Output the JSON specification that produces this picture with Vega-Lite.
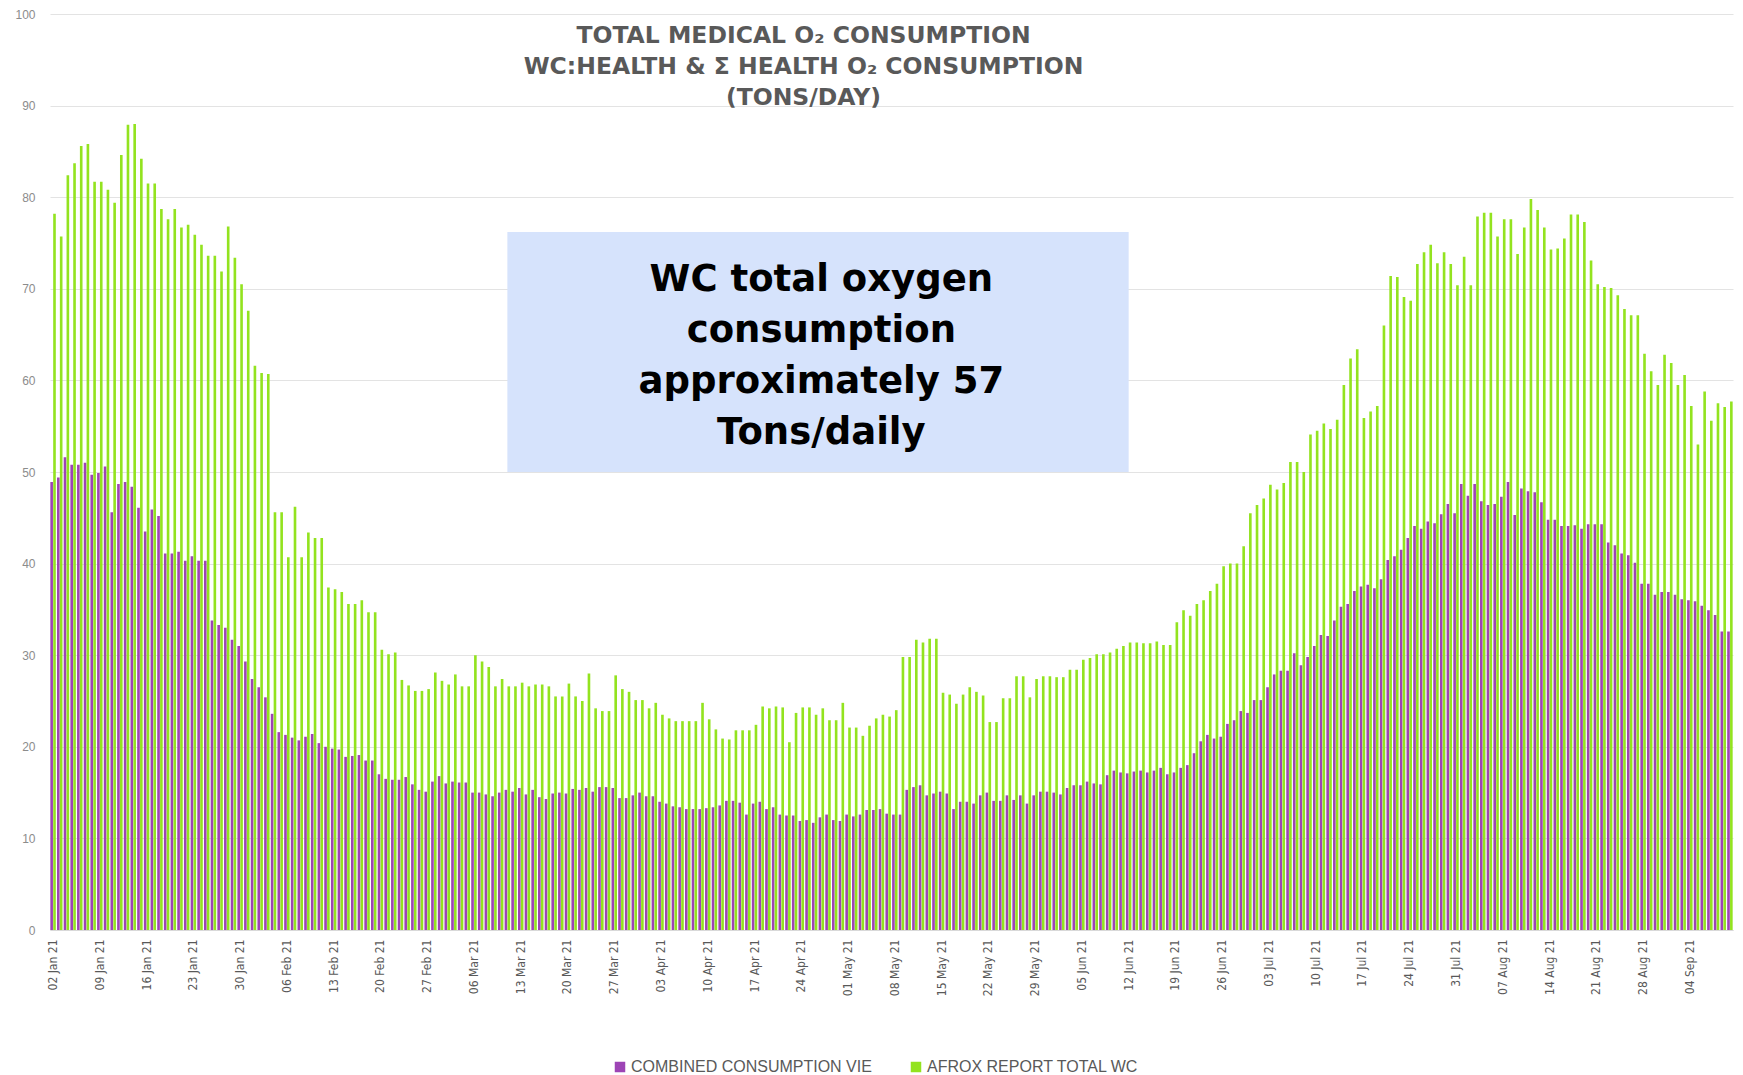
{
  "$schema": "https://vega.github.io/schema/vega-lite/v6.json",
  "autosize": {"type": "none"},
  "width": 1683,
  "height": 916,
  "padding": {"left": 50, "top": 14, "right": 10, "bottom": 145},
  "background": "white",
  "config": {"view": {"stroke": null}},
  "title": {
    "text": ["TOTAL MEDICAL O₂ CONSUMPTION", "WC:HEALTH & Σ HEALTH O₂ CONSUMPTION", "(TONS/DAY)"],
    "anchor": "middle",
    "frame": "group",
    "orient": "top",
    "offset": -101,
    "baseline": "top",
    "dx": -88,
    "font": "DejaVu Sans",
    "fontSize": 23.5,
    "fontWeight": "bold",
    "color": "#595959",
    "lineHeight": 31
  },
  "data": {"values": [
{"d":"2021-01-02","s":"COMBINED CONSUMPTION VIE","v":48.9},{"d":"2021-01-02","s":"AFROX REPORT TOTAL WC","v":78.2},
{"d":"2021-01-03","s":"COMBINED CONSUMPTION VIE","v":49.4},{"d":"2021-01-03","s":"AFROX REPORT TOTAL WC","v":75.7},
{"d":"2021-01-04","s":"COMBINED CONSUMPTION VIE","v":51.6},{"d":"2021-01-04","s":"AFROX REPORT TOTAL WC","v":82.4},
{"d":"2021-01-05","s":"COMBINED CONSUMPTION VIE","v":50.8},{"d":"2021-01-05","s":"AFROX REPORT TOTAL WC","v":83.7},
{"d":"2021-01-06","s":"COMBINED CONSUMPTION VIE","v":50.8},{"d":"2021-01-06","s":"AFROX REPORT TOTAL WC","v":85.6},
{"d":"2021-01-07","s":"COMBINED CONSUMPTION VIE","v":51.0},{"d":"2021-01-07","s":"AFROX REPORT TOTAL WC","v":85.8},
{"d":"2021-01-08","s":"COMBINED CONSUMPTION VIE","v":49.7},{"d":"2021-01-08","s":"AFROX REPORT TOTAL WC","v":81.7},
{"d":"2021-01-09","s":"COMBINED CONSUMPTION VIE","v":49.9},{"d":"2021-01-09","s":"AFROX REPORT TOTAL WC","v":81.7},
{"d":"2021-01-10","s":"COMBINED CONSUMPTION VIE","v":50.6},{"d":"2021-01-10","s":"AFROX REPORT TOTAL WC","v":80.8},
{"d":"2021-01-11","s":"COMBINED CONSUMPTION VIE","v":45.6},{"d":"2021-01-11","s":"AFROX REPORT TOTAL WC","v":79.4},
{"d":"2021-01-12","s":"COMBINED CONSUMPTION VIE","v":48.7},{"d":"2021-01-12","s":"AFROX REPORT TOTAL WC","v":84.6},
{"d":"2021-01-13","s":"COMBINED CONSUMPTION VIE","v":48.9},{"d":"2021-01-13","s":"AFROX REPORT TOTAL WC","v":87.9},
{"d":"2021-01-14","s":"COMBINED CONSUMPTION VIE","v":48.4},{"d":"2021-01-14","s":"AFROX REPORT TOTAL WC","v":88.0},
{"d":"2021-01-15","s":"COMBINED CONSUMPTION VIE","v":46.1},{"d":"2021-01-15","s":"AFROX REPORT TOTAL WC","v":84.2},
{"d":"2021-01-16","s":"COMBINED CONSUMPTION VIE","v":43.5},{"d":"2021-01-16","s":"AFROX REPORT TOTAL WC","v":81.5},
{"d":"2021-01-17","s":"COMBINED CONSUMPTION VIE","v":45.9},{"d":"2021-01-17","s":"AFROX REPORT TOTAL WC","v":81.5},
{"d":"2021-01-18","s":"COMBINED CONSUMPTION VIE","v":45.2},{"d":"2021-01-18","s":"AFROX REPORT TOTAL WC","v":78.7},
{"d":"2021-01-19","s":"COMBINED CONSUMPTION VIE","v":41.1},{"d":"2021-01-19","s":"AFROX REPORT TOTAL WC","v":77.6},
{"d":"2021-01-20","s":"COMBINED CONSUMPTION VIE","v":41.1},{"d":"2021-01-20","s":"AFROX REPORT TOTAL WC","v":78.7},
{"d":"2021-01-21","s":"COMBINED CONSUMPTION VIE","v":41.3},{"d":"2021-01-21","s":"AFROX REPORT TOTAL WC","v":76.7},
{"d":"2021-01-22","s":"COMBINED CONSUMPTION VIE","v":40.3},{"d":"2021-01-22","s":"AFROX REPORT TOTAL WC","v":77.0},
{"d":"2021-01-23","s":"COMBINED CONSUMPTION VIE","v":40.8},{"d":"2021-01-23","s":"AFROX REPORT TOTAL WC","v":75.9},
{"d":"2021-01-24","s":"COMBINED CONSUMPTION VIE","v":40.3},{"d":"2021-01-24","s":"AFROX REPORT TOTAL WC","v":74.8},
{"d":"2021-01-25","s":"COMBINED CONSUMPTION VIE","v":40.3},{"d":"2021-01-25","s":"AFROX REPORT TOTAL WC","v":73.6},
{"d":"2021-01-26","s":"COMBINED CONSUMPTION VIE","v":33.8},{"d":"2021-01-26","s":"AFROX REPORT TOTAL WC","v":73.6},
{"d":"2021-01-27","s":"COMBINED CONSUMPTION VIE","v":33.3},{"d":"2021-01-27","s":"AFROX REPORT TOTAL WC","v":71.9},
{"d":"2021-01-28","s":"COMBINED CONSUMPTION VIE","v":33.0},{"d":"2021-01-28","s":"AFROX REPORT TOTAL WC","v":76.8},
{"d":"2021-01-29","s":"COMBINED CONSUMPTION VIE","v":31.7},{"d":"2021-01-29","s":"AFROX REPORT TOTAL WC","v":73.4},
{"d":"2021-01-30","s":"COMBINED CONSUMPTION VIE","v":31.0},{"d":"2021-01-30","s":"AFROX REPORT TOTAL WC","v":70.5},
{"d":"2021-01-31","s":"COMBINED CONSUMPTION VIE","v":29.3},{"d":"2021-01-31","s":"AFROX REPORT TOTAL WC","v":67.6},
{"d":"2021-02-01","s":"COMBINED CONSUMPTION VIE","v":27.4},{"d":"2021-02-01","s":"AFROX REPORT TOTAL WC","v":61.6},
{"d":"2021-02-02","s":"COMBINED CONSUMPTION VIE","v":26.5},{"d":"2021-02-02","s":"AFROX REPORT TOTAL WC","v":60.8},
{"d":"2021-02-03","s":"COMBINED CONSUMPTION VIE","v":25.4},{"d":"2021-02-03","s":"AFROX REPORT TOTAL WC","v":60.7},
{"d":"2021-02-04","s":"COMBINED CONSUMPTION VIE","v":23.6},{"d":"2021-02-04","s":"AFROX REPORT TOTAL WC","v":45.6},
{"d":"2021-02-05","s":"COMBINED CONSUMPTION VIE","v":21.6},{"d":"2021-02-05","s":"AFROX REPORT TOTAL WC","v":45.6},
{"d":"2021-02-06","s":"COMBINED CONSUMPTION VIE","v":21.3},{"d":"2021-02-06","s":"AFROX REPORT TOTAL WC","v":40.7},
{"d":"2021-02-07","s":"COMBINED CONSUMPTION VIE","v":21.0},{"d":"2021-02-07","s":"AFROX REPORT TOTAL WC","v":46.2},
{"d":"2021-02-08","s":"COMBINED CONSUMPTION VIE","v":20.7},{"d":"2021-02-08","s":"AFROX REPORT TOTAL WC","v":40.7},
{"d":"2021-02-09","s":"COMBINED CONSUMPTION VIE","v":21.1},{"d":"2021-02-09","s":"AFROX REPORT TOTAL WC","v":43.4},
{"d":"2021-02-10","s":"COMBINED CONSUMPTION VIE","v":21.4},{"d":"2021-02-10","s":"AFROX REPORT TOTAL WC","v":42.8},
{"d":"2021-02-11","s":"COMBINED CONSUMPTION VIE","v":20.4},{"d":"2021-02-11","s":"AFROX REPORT TOTAL WC","v":42.8},
{"d":"2021-02-12","s":"COMBINED CONSUMPTION VIE","v":20.0},{"d":"2021-02-12","s":"AFROX REPORT TOTAL WC","v":37.4},
{"d":"2021-02-13","s":"COMBINED CONSUMPTION VIE","v":19.8},{"d":"2021-02-13","s":"AFROX REPORT TOTAL WC","v":37.2},
{"d":"2021-02-14","s":"COMBINED CONSUMPTION VIE","v":19.7},{"d":"2021-02-14","s":"AFROX REPORT TOTAL WC","v":36.9},
{"d":"2021-02-15","s":"COMBINED CONSUMPTION VIE","v":18.9},{"d":"2021-02-15","s":"AFROX REPORT TOTAL WC","v":35.6},
{"d":"2021-02-16","s":"COMBINED CONSUMPTION VIE","v":19.0},{"d":"2021-02-16","s":"AFROX REPORT TOTAL WC","v":35.6},
{"d":"2021-02-17","s":"COMBINED CONSUMPTION VIE","v":19.1},{"d":"2021-02-17","s":"AFROX REPORT TOTAL WC","v":36.0},
{"d":"2021-02-18","s":"COMBINED CONSUMPTION VIE","v":18.5},{"d":"2021-02-18","s":"AFROX REPORT TOTAL WC","v":34.7},
{"d":"2021-02-19","s":"COMBINED CONSUMPTION VIE","v":18.5},{"d":"2021-02-19","s":"AFROX REPORT TOTAL WC","v":34.7},
{"d":"2021-02-20","s":"COMBINED CONSUMPTION VIE","v":17.0},{"d":"2021-02-20","s":"AFROX REPORT TOTAL WC","v":30.6},
{"d":"2021-02-21","s":"COMBINED CONSUMPTION VIE","v":16.5},{"d":"2021-02-21","s":"AFROX REPORT TOTAL WC","v":30.1},
{"d":"2021-02-22","s":"COMBINED CONSUMPTION VIE","v":16.4},{"d":"2021-02-22","s":"AFROX REPORT TOTAL WC","v":30.3},
{"d":"2021-02-23","s":"COMBINED CONSUMPTION VIE","v":16.4},{"d":"2021-02-23","s":"AFROX REPORT TOTAL WC","v":27.3},
{"d":"2021-02-24","s":"COMBINED CONSUMPTION VIE","v":16.7},{"d":"2021-02-24","s":"AFROX REPORT TOTAL WC","v":26.7},
{"d":"2021-02-25","s":"COMBINED CONSUMPTION VIE","v":15.9},{"d":"2021-02-25","s":"AFROX REPORT TOTAL WC","v":26.1},
{"d":"2021-02-26","s":"COMBINED CONSUMPTION VIE","v":15.3},{"d":"2021-02-26","s":"AFROX REPORT TOTAL WC","v":26.1},
{"d":"2021-02-27","s":"COMBINED CONSUMPTION VIE","v":15.1},{"d":"2021-02-27","s":"AFROX REPORT TOTAL WC","v":26.3},
{"d":"2021-02-28","s":"COMBINED CONSUMPTION VIE","v":16.2},{"d":"2021-02-28","s":"AFROX REPORT TOTAL WC","v":28.1},
{"d":"2021-03-01","s":"COMBINED CONSUMPTION VIE","v":16.8},{"d":"2021-03-01","s":"AFROX REPORT TOTAL WC","v":27.2},
{"d":"2021-03-02","s":"COMBINED CONSUMPTION VIE","v":16.0},{"d":"2021-03-02","s":"AFROX REPORT TOTAL WC","v":26.8},
{"d":"2021-03-03","s":"COMBINED CONSUMPTION VIE","v":16.2},{"d":"2021-03-03","s":"AFROX REPORT TOTAL WC","v":27.9},
{"d":"2021-03-04","s":"COMBINED CONSUMPTION VIE","v":16.1},{"d":"2021-03-04","s":"AFROX REPORT TOTAL WC","v":26.6},
{"d":"2021-03-05","s":"COMBINED CONSUMPTION VIE","v":16.1},{"d":"2021-03-05","s":"AFROX REPORT TOTAL WC","v":26.6},
{"d":"2021-03-06","s":"COMBINED CONSUMPTION VIE","v":15.0},{"d":"2021-03-06","s":"AFROX REPORT TOTAL WC","v":30.0},
{"d":"2021-03-07","s":"COMBINED CONSUMPTION VIE","v":15.0},{"d":"2021-03-07","s":"AFROX REPORT TOTAL WC","v":29.3},
{"d":"2021-03-08","s":"COMBINED CONSUMPTION VIE","v":14.8},{"d":"2021-03-08","s":"AFROX REPORT TOTAL WC","v":28.7},
{"d":"2021-03-09","s":"COMBINED CONSUMPTION VIE","v":14.6},{"d":"2021-03-09","s":"AFROX REPORT TOTAL WC","v":26.6},
{"d":"2021-03-10","s":"COMBINED CONSUMPTION VIE","v":15.0},{"d":"2021-03-10","s":"AFROX REPORT TOTAL WC","v":27.4},
{"d":"2021-03-11","s":"COMBINED CONSUMPTION VIE","v":15.3},{"d":"2021-03-11","s":"AFROX REPORT TOTAL WC","v":26.6},
{"d":"2021-03-12","s":"COMBINED CONSUMPTION VIE","v":15.1},{"d":"2021-03-12","s":"AFROX REPORT TOTAL WC","v":26.6},
{"d":"2021-03-13","s":"COMBINED CONSUMPTION VIE","v":15.5},{"d":"2021-03-13","s":"AFROX REPORT TOTAL WC","v":27.0},
{"d":"2021-03-14","s":"COMBINED CONSUMPTION VIE","v":14.8},{"d":"2021-03-14","s":"AFROX REPORT TOTAL WC","v":26.6},
{"d":"2021-03-15","s":"COMBINED CONSUMPTION VIE","v":15.3},{"d":"2021-03-15","s":"AFROX REPORT TOTAL WC","v":26.8},
{"d":"2021-03-16","s":"COMBINED CONSUMPTION VIE","v":14.5},{"d":"2021-03-16","s":"AFROX REPORT TOTAL WC","v":26.8},
{"d":"2021-03-17","s":"COMBINED CONSUMPTION VIE","v":14.3},{"d":"2021-03-17","s":"AFROX REPORT TOTAL WC","v":26.6},
{"d":"2021-03-18","s":"COMBINED CONSUMPTION VIE","v":14.9},{"d":"2021-03-18","s":"AFROX REPORT TOTAL WC","v":25.5},
{"d":"2021-03-19","s":"COMBINED CONSUMPTION VIE","v":15.0},{"d":"2021-03-19","s":"AFROX REPORT TOTAL WC","v":25.5},
{"d":"2021-03-20","s":"COMBINED CONSUMPTION VIE","v":14.9},{"d":"2021-03-20","s":"AFROX REPORT TOTAL WC","v":26.9},
{"d":"2021-03-21","s":"COMBINED CONSUMPTION VIE","v":15.4},{"d":"2021-03-21","s":"AFROX REPORT TOTAL WC","v":25.5},
{"d":"2021-03-22","s":"COMBINED CONSUMPTION VIE","v":15.3},{"d":"2021-03-22","s":"AFROX REPORT TOTAL WC","v":25.0},
{"d":"2021-03-23","s":"COMBINED CONSUMPTION VIE","v":15.5},{"d":"2021-03-23","s":"AFROX REPORT TOTAL WC","v":28.0},
{"d":"2021-03-24","s":"COMBINED CONSUMPTION VIE","v":15.1},{"d":"2021-03-24","s":"AFROX REPORT TOTAL WC","v":24.2},
{"d":"2021-03-25","s":"COMBINED CONSUMPTION VIE","v":15.6},{"d":"2021-03-25","s":"AFROX REPORT TOTAL WC","v":23.9},
{"d":"2021-03-26","s":"COMBINED CONSUMPTION VIE","v":15.6},{"d":"2021-03-26","s":"AFROX REPORT TOTAL WC","v":23.9},
{"d":"2021-03-27","s":"COMBINED CONSUMPTION VIE","v":15.5},{"d":"2021-03-27","s":"AFROX REPORT TOTAL WC","v":27.8},
{"d":"2021-03-28","s":"COMBINED CONSUMPTION VIE","v":14.4},{"d":"2021-03-28","s":"AFROX REPORT TOTAL WC","v":26.3},
{"d":"2021-03-29","s":"COMBINED CONSUMPTION VIE","v":14.4},{"d":"2021-03-29","s":"AFROX REPORT TOTAL WC","v":26.0},
{"d":"2021-03-30","s":"COMBINED CONSUMPTION VIE","v":14.7},{"d":"2021-03-30","s":"AFROX REPORT TOTAL WC","v":25.1},
{"d":"2021-03-31","s":"COMBINED CONSUMPTION VIE","v":15.0},{"d":"2021-03-31","s":"AFROX REPORT TOTAL WC","v":25.1},
{"d":"2021-04-01","s":"COMBINED CONSUMPTION VIE","v":14.6},{"d":"2021-04-01","s":"AFROX REPORT TOTAL WC","v":24.2},
{"d":"2021-04-02","s":"COMBINED CONSUMPTION VIE","v":14.6},{"d":"2021-04-02","s":"AFROX REPORT TOTAL WC","v":24.8},
{"d":"2021-04-03","s":"COMBINED CONSUMPTION VIE","v":14.0},{"d":"2021-04-03","s":"AFROX REPORT TOTAL WC","v":23.5},
{"d":"2021-04-04","s":"COMBINED CONSUMPTION VIE","v":13.8},{"d":"2021-04-04","s":"AFROX REPORT TOTAL WC","v":23.1},
{"d":"2021-04-05","s":"COMBINED CONSUMPTION VIE","v":13.5},{"d":"2021-04-05","s":"AFROX REPORT TOTAL WC","v":22.8},
{"d":"2021-04-06","s":"COMBINED CONSUMPTION VIE","v":13.4},{"d":"2021-04-06","s":"AFROX REPORT TOTAL WC","v":22.8},
{"d":"2021-04-07","s":"COMBINED CONSUMPTION VIE","v":13.2},{"d":"2021-04-07","s":"AFROX REPORT TOTAL WC","v":22.8},
{"d":"2021-04-08","s":"COMBINED CONSUMPTION VIE","v":13.2},{"d":"2021-04-08","s":"AFROX REPORT TOTAL WC","v":22.8},
{"d":"2021-04-09","s":"COMBINED CONSUMPTION VIE","v":13.2},{"d":"2021-04-09","s":"AFROX REPORT TOTAL WC","v":24.8},
{"d":"2021-04-10","s":"COMBINED CONSUMPTION VIE","v":13.3},{"d":"2021-04-10","s":"AFROX REPORT TOTAL WC","v":23.0},
{"d":"2021-04-11","s":"COMBINED CONSUMPTION VIE","v":13.4},{"d":"2021-04-11","s":"AFROX REPORT TOTAL WC","v":21.9},
{"d":"2021-04-12","s":"COMBINED CONSUMPTION VIE","v":13.6},{"d":"2021-04-12","s":"AFROX REPORT TOTAL WC","v":20.9},
{"d":"2021-04-13","s":"COMBINED CONSUMPTION VIE","v":14.1},{"d":"2021-04-13","s":"AFROX REPORT TOTAL WC","v":20.8},
{"d":"2021-04-14","s":"COMBINED CONSUMPTION VIE","v":14.1},{"d":"2021-04-14","s":"AFROX REPORT TOTAL WC","v":21.8},
{"d":"2021-04-15","s":"COMBINED CONSUMPTION VIE","v":13.9},{"d":"2021-04-15","s":"AFROX REPORT TOTAL WC","v":21.8},
{"d":"2021-04-16","s":"COMBINED CONSUMPTION VIE","v":12.6},{"d":"2021-04-16","s":"AFROX REPORT TOTAL WC","v":21.8},
{"d":"2021-04-17","s":"COMBINED CONSUMPTION VIE","v":13.8},{"d":"2021-04-17","s":"AFROX REPORT TOTAL WC","v":22.4},
{"d":"2021-04-18","s":"COMBINED CONSUMPTION VIE","v":14.0},{"d":"2021-04-18","s":"AFROX REPORT TOTAL WC","v":24.4},
{"d":"2021-04-19","s":"COMBINED CONSUMPTION VIE","v":13.2},{"d":"2021-04-19","s":"AFROX REPORT TOTAL WC","v":24.2},
{"d":"2021-04-20","s":"COMBINED CONSUMPTION VIE","v":13.4},{"d":"2021-04-20","s":"AFROX REPORT TOTAL WC","v":24.4},
{"d":"2021-04-21","s":"COMBINED CONSUMPTION VIE","v":12.6},{"d":"2021-04-21","s":"AFROX REPORT TOTAL WC","v":24.3},
{"d":"2021-04-22","s":"COMBINED CONSUMPTION VIE","v":12.5},{"d":"2021-04-22","s":"AFROX REPORT TOTAL WC","v":20.5},
{"d":"2021-04-23","s":"COMBINED CONSUMPTION VIE","v":12.5},{"d":"2021-04-23","s":"AFROX REPORT TOTAL WC","v":23.7},
{"d":"2021-04-24","s":"COMBINED CONSUMPTION VIE","v":11.9},{"d":"2021-04-24","s":"AFROX REPORT TOTAL WC","v":24.3},
{"d":"2021-04-25","s":"COMBINED CONSUMPTION VIE","v":12.0},{"d":"2021-04-25","s":"AFROX REPORT TOTAL WC","v":24.3},
{"d":"2021-04-26","s":"COMBINED CONSUMPTION VIE","v":11.7},{"d":"2021-04-26","s":"AFROX REPORT TOTAL WC","v":23.5},
{"d":"2021-04-27","s":"COMBINED CONSUMPTION VIE","v":12.3},{"d":"2021-04-27","s":"AFROX REPORT TOTAL WC","v":24.2},
{"d":"2021-04-28","s":"COMBINED CONSUMPTION VIE","v":12.6},{"d":"2021-04-28","s":"AFROX REPORT TOTAL WC","v":22.9},
{"d":"2021-04-29","s":"COMBINED CONSUMPTION VIE","v":12.0},{"d":"2021-04-29","s":"AFROX REPORT TOTAL WC","v":22.9},
{"d":"2021-04-30","s":"COMBINED CONSUMPTION VIE","v":11.9},{"d":"2021-04-30","s":"AFROX REPORT TOTAL WC","v":24.8},
{"d":"2021-05-01","s":"COMBINED CONSUMPTION VIE","v":12.6},{"d":"2021-05-01","s":"AFROX REPORT TOTAL WC","v":22.1},
{"d":"2021-05-02","s":"COMBINED CONSUMPTION VIE","v":12.4},{"d":"2021-05-02","s":"AFROX REPORT TOTAL WC","v":22.1},
{"d":"2021-05-03","s":"COMBINED CONSUMPTION VIE","v":12.6},{"d":"2021-05-03","s":"AFROX REPORT TOTAL WC","v":21.2},
{"d":"2021-05-04","s":"COMBINED CONSUMPTION VIE","v":13.1},{"d":"2021-05-04","s":"AFROX REPORT TOTAL WC","v":22.3},
{"d":"2021-05-05","s":"COMBINED CONSUMPTION VIE","v":13.1},{"d":"2021-05-05","s":"AFROX REPORT TOTAL WC","v":23.1},
{"d":"2021-05-06","s":"COMBINED CONSUMPTION VIE","v":13.2},{"d":"2021-05-06","s":"AFROX REPORT TOTAL WC","v":23.5},
{"d":"2021-05-07","s":"COMBINED CONSUMPTION VIE","v":12.7},{"d":"2021-05-07","s":"AFROX REPORT TOTAL WC","v":23.3},
{"d":"2021-05-08","s":"COMBINED CONSUMPTION VIE","v":12.6},{"d":"2021-05-08","s":"AFROX REPORT TOTAL WC","v":24.0},
{"d":"2021-05-09","s":"COMBINED CONSUMPTION VIE","v":12.6},{"d":"2021-05-09","s":"AFROX REPORT TOTAL WC","v":29.8},
{"d":"2021-05-10","s":"COMBINED CONSUMPTION VIE","v":15.3},{"d":"2021-05-10","s":"AFROX REPORT TOTAL WC","v":29.8},
{"d":"2021-05-11","s":"COMBINED CONSUMPTION VIE","v":15.6},{"d":"2021-05-11","s":"AFROX REPORT TOTAL WC","v":31.7},
{"d":"2021-05-12","s":"COMBINED CONSUMPTION VIE","v":15.8},{"d":"2021-05-12","s":"AFROX REPORT TOTAL WC","v":31.4},
{"d":"2021-05-13","s":"COMBINED CONSUMPTION VIE","v":14.7},{"d":"2021-05-13","s":"AFROX REPORT TOTAL WC","v":31.8},
{"d":"2021-05-14","s":"COMBINED CONSUMPTION VIE","v":14.9},{"d":"2021-05-14","s":"AFROX REPORT TOTAL WC","v":31.8},
{"d":"2021-05-15","s":"COMBINED CONSUMPTION VIE","v":15.1},{"d":"2021-05-15","s":"AFROX REPORT TOTAL WC","v":25.9},
{"d":"2021-05-16","s":"COMBINED CONSUMPTION VIE","v":14.9},{"d":"2021-05-16","s":"AFROX REPORT TOTAL WC","v":25.7},
{"d":"2021-05-17","s":"COMBINED CONSUMPTION VIE","v":13.2},{"d":"2021-05-17","s":"AFROX REPORT TOTAL WC","v":24.7},
{"d":"2021-05-18","s":"COMBINED CONSUMPTION VIE","v":14.0},{"d":"2021-05-18","s":"AFROX REPORT TOTAL WC","v":25.7},
{"d":"2021-05-19","s":"COMBINED CONSUMPTION VIE","v":14.0},{"d":"2021-05-19","s":"AFROX REPORT TOTAL WC","v":26.5},
{"d":"2021-05-20","s":"COMBINED CONSUMPTION VIE","v":13.8},{"d":"2021-05-20","s":"AFROX REPORT TOTAL WC","v":26.0},
{"d":"2021-05-21","s":"COMBINED CONSUMPTION VIE","v":14.7},{"d":"2021-05-21","s":"AFROX REPORT TOTAL WC","v":25.6},
{"d":"2021-05-22","s":"COMBINED CONSUMPTION VIE","v":15.0},{"d":"2021-05-22","s":"AFROX REPORT TOTAL WC","v":22.7},
{"d":"2021-05-23","s":"COMBINED CONSUMPTION VIE","v":14.1},{"d":"2021-05-23","s":"AFROX REPORT TOTAL WC","v":22.7},
{"d":"2021-05-24","s":"COMBINED CONSUMPTION VIE","v":14.1},{"d":"2021-05-24","s":"AFROX REPORT TOTAL WC","v":25.3},
{"d":"2021-05-25","s":"COMBINED CONSUMPTION VIE","v":14.7},{"d":"2021-05-25","s":"AFROX REPORT TOTAL WC","v":25.3},
{"d":"2021-05-26","s":"COMBINED CONSUMPTION VIE","v":14.2},{"d":"2021-05-26","s":"AFROX REPORT TOTAL WC","v":27.7},
{"d":"2021-05-27","s":"COMBINED CONSUMPTION VIE","v":14.7},{"d":"2021-05-27","s":"AFROX REPORT TOTAL WC","v":27.7},
{"d":"2021-05-28","s":"COMBINED CONSUMPTION VIE","v":13.8},{"d":"2021-05-28","s":"AFROX REPORT TOTAL WC","v":25.4},
{"d":"2021-05-29","s":"COMBINED CONSUMPTION VIE","v":14.7},{"d":"2021-05-29","s":"AFROX REPORT TOTAL WC","v":27.4},
{"d":"2021-05-30","s":"COMBINED CONSUMPTION VIE","v":15.1},{"d":"2021-05-30","s":"AFROX REPORT TOTAL WC","v":27.7},
{"d":"2021-05-31","s":"COMBINED CONSUMPTION VIE","v":15.1},{"d":"2021-05-31","s":"AFROX REPORT TOTAL WC","v":27.7},
{"d":"2021-06-01","s":"COMBINED CONSUMPTION VIE","v":15.0},{"d":"2021-06-01","s":"AFROX REPORT TOTAL WC","v":27.6},
{"d":"2021-06-02","s":"COMBINED CONSUMPTION VIE","v":14.8},{"d":"2021-06-02","s":"AFROX REPORT TOTAL WC","v":27.6},
{"d":"2021-06-03","s":"COMBINED CONSUMPTION VIE","v":15.5},{"d":"2021-06-03","s":"AFROX REPORT TOTAL WC","v":28.4},
{"d":"2021-06-04","s":"COMBINED CONSUMPTION VIE","v":15.8},{"d":"2021-06-04","s":"AFROX REPORT TOTAL WC","v":28.4},
{"d":"2021-06-05","s":"COMBINED CONSUMPTION VIE","v":15.8},{"d":"2021-06-05","s":"AFROX REPORT TOTAL WC","v":29.5},
{"d":"2021-06-06","s":"COMBINED CONSUMPTION VIE","v":16.2},{"d":"2021-06-06","s":"AFROX REPORT TOTAL WC","v":29.7},
{"d":"2021-06-07","s":"COMBINED CONSUMPTION VIE","v":16.0},{"d":"2021-06-07","s":"AFROX REPORT TOTAL WC","v":30.1},
{"d":"2021-06-08","s":"COMBINED CONSUMPTION VIE","v":15.9},{"d":"2021-06-08","s":"AFROX REPORT TOTAL WC","v":30.1},
{"d":"2021-06-09","s":"COMBINED CONSUMPTION VIE","v":16.9},{"d":"2021-06-09","s":"AFROX REPORT TOTAL WC","v":30.3},
{"d":"2021-06-10","s":"COMBINED CONSUMPTION VIE","v":17.4},{"d":"2021-06-10","s":"AFROX REPORT TOTAL WC","v":30.7},
{"d":"2021-06-11","s":"COMBINED CONSUMPTION VIE","v":17.2},{"d":"2021-06-11","s":"AFROX REPORT TOTAL WC","v":31.0},
{"d":"2021-06-12","s":"COMBINED CONSUMPTION VIE","v":17.1},{"d":"2021-06-12","s":"AFROX REPORT TOTAL WC","v":31.4},
{"d":"2021-06-13","s":"COMBINED CONSUMPTION VIE","v":17.3},{"d":"2021-06-13","s":"AFROX REPORT TOTAL WC","v":31.4},
{"d":"2021-06-14","s":"COMBINED CONSUMPTION VIE","v":17.4},{"d":"2021-06-14","s":"AFROX REPORT TOTAL WC","v":31.3},
{"d":"2021-06-15","s":"COMBINED CONSUMPTION VIE","v":17.2},{"d":"2021-06-15","s":"AFROX REPORT TOTAL WC","v":31.3},
{"d":"2021-06-16","s":"COMBINED CONSUMPTION VIE","v":17.4},{"d":"2021-06-16","s":"AFROX REPORT TOTAL WC","v":31.5},
{"d":"2021-06-17","s":"COMBINED CONSUMPTION VIE","v":17.7},{"d":"2021-06-17","s":"AFROX REPORT TOTAL WC","v":31.1},
{"d":"2021-06-18","s":"COMBINED CONSUMPTION VIE","v":17.0},{"d":"2021-06-18","s":"AFROX REPORT TOTAL WC","v":31.1},
{"d":"2021-06-19","s":"COMBINED CONSUMPTION VIE","v":17.2},{"d":"2021-06-19","s":"AFROX REPORT TOTAL WC","v":33.6},
{"d":"2021-06-20","s":"COMBINED CONSUMPTION VIE","v":17.7},{"d":"2021-06-20","s":"AFROX REPORT TOTAL WC","v":34.9},
{"d":"2021-06-21","s":"COMBINED CONSUMPTION VIE","v":18.0},{"d":"2021-06-21","s":"AFROX REPORT TOTAL WC","v":34.3},
{"d":"2021-06-22","s":"COMBINED CONSUMPTION VIE","v":19.3},{"d":"2021-06-22","s":"AFROX REPORT TOTAL WC","v":35.6},
{"d":"2021-06-23","s":"COMBINED CONSUMPTION VIE","v":20.6},{"d":"2021-06-23","s":"AFROX REPORT TOTAL WC","v":36.0},
{"d":"2021-06-24","s":"COMBINED CONSUMPTION VIE","v":21.3},{"d":"2021-06-24","s":"AFROX REPORT TOTAL WC","v":37.0},
{"d":"2021-06-25","s":"COMBINED CONSUMPTION VIE","v":20.9},{"d":"2021-06-25","s":"AFROX REPORT TOTAL WC","v":37.8},
{"d":"2021-06-26","s":"COMBINED CONSUMPTION VIE","v":21.1},{"d":"2021-06-26","s":"AFROX REPORT TOTAL WC","v":39.7},
{"d":"2021-06-27","s":"COMBINED CONSUMPTION VIE","v":22.5},{"d":"2021-06-27","s":"AFROX REPORT TOTAL WC","v":40.0},
{"d":"2021-06-28","s":"COMBINED CONSUMPTION VIE","v":22.9},{"d":"2021-06-28","s":"AFROX REPORT TOTAL WC","v":40.0},
{"d":"2021-06-29","s":"COMBINED CONSUMPTION VIE","v":23.9},{"d":"2021-06-29","s":"AFROX REPORT TOTAL WC","v":41.9},
{"d":"2021-06-30","s":"COMBINED CONSUMPTION VIE","v":23.7},{"d":"2021-06-30","s":"AFROX REPORT TOTAL WC","v":45.5},
{"d":"2021-07-01","s":"COMBINED CONSUMPTION VIE","v":25.1},{"d":"2021-07-01","s":"AFROX REPORT TOTAL WC","v":46.4},
{"d":"2021-07-02","s":"COMBINED CONSUMPTION VIE","v":25.1},{"d":"2021-07-02","s":"AFROX REPORT TOTAL WC","v":47.1},
{"d":"2021-07-03","s":"COMBINED CONSUMPTION VIE","v":26.5},{"d":"2021-07-03","s":"AFROX REPORT TOTAL WC","v":48.6},
{"d":"2021-07-04","s":"COMBINED CONSUMPTION VIE","v":27.9},{"d":"2021-07-04","s":"AFROX REPORT TOTAL WC","v":48.1},
{"d":"2021-07-05","s":"COMBINED CONSUMPTION VIE","v":28.3},{"d":"2021-07-05","s":"AFROX REPORT TOTAL WC","v":48.8},
{"d":"2021-07-06","s":"COMBINED CONSUMPTION VIE","v":28.3},{"d":"2021-07-06","s":"AFROX REPORT TOTAL WC","v":51.1},
{"d":"2021-07-07","s":"COMBINED CONSUMPTION VIE","v":30.2},{"d":"2021-07-07","s":"AFROX REPORT TOTAL WC","v":51.1},
{"d":"2021-07-08","s":"COMBINED CONSUMPTION VIE","v":28.9},{"d":"2021-07-08","s":"AFROX REPORT TOTAL WC","v":50.0},
{"d":"2021-07-09","s":"COMBINED CONSUMPTION VIE","v":29.8},{"d":"2021-07-09","s":"AFROX REPORT TOTAL WC","v":54.1},
{"d":"2021-07-10","s":"COMBINED CONSUMPTION VIE","v":31.0},{"d":"2021-07-10","s":"AFROX REPORT TOTAL WC","v":54.5},
{"d":"2021-07-11","s":"COMBINED CONSUMPTION VIE","v":32.2},{"d":"2021-07-11","s":"AFROX REPORT TOTAL WC","v":55.3},
{"d":"2021-07-12","s":"COMBINED CONSUMPTION VIE","v":32.1},{"d":"2021-07-12","s":"AFROX REPORT TOTAL WC","v":54.7},
{"d":"2021-07-13","s":"COMBINED CONSUMPTION VIE","v":33.8},{"d":"2021-07-13","s":"AFROX REPORT TOTAL WC","v":55.7},
{"d":"2021-07-14","s":"COMBINED CONSUMPTION VIE","v":35.3},{"d":"2021-07-14","s":"AFROX REPORT TOTAL WC","v":59.5},
{"d":"2021-07-15","s":"COMBINED CONSUMPTION VIE","v":35.6},{"d":"2021-07-15","s":"AFROX REPORT TOTAL WC","v":62.4},
{"d":"2021-07-16","s":"COMBINED CONSUMPTION VIE","v":37.0},{"d":"2021-07-16","s":"AFROX REPORT TOTAL WC","v":63.4},
{"d":"2021-07-17","s":"COMBINED CONSUMPTION VIE","v":37.5},{"d":"2021-07-17","s":"AFROX REPORT TOTAL WC","v":55.9},
{"d":"2021-07-18","s":"COMBINED CONSUMPTION VIE","v":37.7},{"d":"2021-07-18","s":"AFROX REPORT TOTAL WC","v":56.6},
{"d":"2021-07-19","s":"COMBINED CONSUMPTION VIE","v":37.3},{"d":"2021-07-19","s":"AFROX REPORT TOTAL WC","v":57.2},
{"d":"2021-07-20","s":"COMBINED CONSUMPTION VIE","v":38.3},{"d":"2021-07-20","s":"AFROX REPORT TOTAL WC","v":66.0},
{"d":"2021-07-21","s":"COMBINED CONSUMPTION VIE","v":40.4},{"d":"2021-07-21","s":"AFROX REPORT TOTAL WC","v":71.4},
{"d":"2021-07-22","s":"COMBINED CONSUMPTION VIE","v":40.8},{"d":"2021-07-22","s":"AFROX REPORT TOTAL WC","v":71.3},
{"d":"2021-07-23","s":"COMBINED CONSUMPTION VIE","v":41.5},{"d":"2021-07-23","s":"AFROX REPORT TOTAL WC","v":69.1},
{"d":"2021-07-24","s":"COMBINED CONSUMPTION VIE","v":42.8},{"d":"2021-07-24","s":"AFROX REPORT TOTAL WC","v":68.7},
{"d":"2021-07-25","s":"COMBINED CONSUMPTION VIE","v":44.1},{"d":"2021-07-25","s":"AFROX REPORT TOTAL WC","v":72.7},
{"d":"2021-07-26","s":"COMBINED CONSUMPTION VIE","v":43.8},{"d":"2021-07-26","s":"AFROX REPORT TOTAL WC","v":74.0},
{"d":"2021-07-27","s":"COMBINED CONSUMPTION VIE","v":44.6},{"d":"2021-07-27","s":"AFROX REPORT TOTAL WC","v":74.8},
{"d":"2021-07-28","s":"COMBINED CONSUMPTION VIE","v":44.4},{"d":"2021-07-28","s":"AFROX REPORT TOTAL WC","v":72.8},
{"d":"2021-07-29","s":"COMBINED CONSUMPTION VIE","v":45.4},{"d":"2021-07-29","s":"AFROX REPORT TOTAL WC","v":74.0},
{"d":"2021-07-30","s":"COMBINED CONSUMPTION VIE","v":46.5},{"d":"2021-07-30","s":"AFROX REPORT TOTAL WC","v":72.7},
{"d":"2021-07-31","s":"COMBINED CONSUMPTION VIE","v":45.5},{"d":"2021-07-31","s":"AFROX REPORT TOTAL WC","v":70.4},
{"d":"2021-08-01","s":"COMBINED CONSUMPTION VIE","v":48.7},{"d":"2021-08-01","s":"AFROX REPORT TOTAL WC","v":73.5},
{"d":"2021-08-02","s":"COMBINED CONSUMPTION VIE","v":47.4},{"d":"2021-08-02","s":"AFROX REPORT TOTAL WC","v":70.4},
{"d":"2021-08-03","s":"COMBINED CONSUMPTION VIE","v":48.7},{"d":"2021-08-03","s":"AFROX REPORT TOTAL WC","v":77.9},
{"d":"2021-08-04","s":"COMBINED CONSUMPTION VIE","v":46.8},{"d":"2021-08-04","s":"AFROX REPORT TOTAL WC","v":78.3},
{"d":"2021-08-05","s":"COMBINED CONSUMPTION VIE","v":46.4},{"d":"2021-08-05","s":"AFROX REPORT TOTAL WC","v":78.3},
{"d":"2021-08-06","s":"COMBINED CONSUMPTION VIE","v":46.5},{"d":"2021-08-06","s":"AFROX REPORT TOTAL WC","v":75.7},
{"d":"2021-08-07","s":"COMBINED CONSUMPTION VIE","v":47.3},{"d":"2021-08-07","s":"AFROX REPORT TOTAL WC","v":77.6},
{"d":"2021-08-08","s":"COMBINED CONSUMPTION VIE","v":48.9},{"d":"2021-08-08","s":"AFROX REPORT TOTAL WC","v":77.6},
{"d":"2021-08-09","s":"COMBINED CONSUMPTION VIE","v":45.3},{"d":"2021-08-09","s":"AFROX REPORT TOTAL WC","v":73.8},
{"d":"2021-08-10","s":"COMBINED CONSUMPTION VIE","v":48.2},{"d":"2021-08-10","s":"AFROX REPORT TOTAL WC","v":76.7},
{"d":"2021-08-11","s":"COMBINED CONSUMPTION VIE","v":47.9},{"d":"2021-08-11","s":"AFROX REPORT TOTAL WC","v":79.8},
{"d":"2021-08-12","s":"COMBINED CONSUMPTION VIE","v":47.8},{"d":"2021-08-12","s":"AFROX REPORT TOTAL WC","v":78.6},
{"d":"2021-08-13","s":"COMBINED CONSUMPTION VIE","v":46.7},{"d":"2021-08-13","s":"AFROX REPORT TOTAL WC","v":76.7},
{"d":"2021-08-14","s":"COMBINED CONSUMPTION VIE","v":44.8},{"d":"2021-08-14","s":"AFROX REPORT TOTAL WC","v":74.3},
{"d":"2021-08-15","s":"COMBINED CONSUMPTION VIE","v":44.8},{"d":"2021-08-15","s":"AFROX REPORT TOTAL WC","v":74.4},
{"d":"2021-08-16","s":"COMBINED CONSUMPTION VIE","v":44.1},{"d":"2021-08-16","s":"AFROX REPORT TOTAL WC","v":75.5},
{"d":"2021-08-17","s":"COMBINED CONSUMPTION VIE","v":44.1},{"d":"2021-08-17","s":"AFROX REPORT TOTAL WC","v":78.1},
{"d":"2021-08-18","s":"COMBINED CONSUMPTION VIE","v":44.2},{"d":"2021-08-18","s":"AFROX REPORT TOTAL WC","v":78.1},
{"d":"2021-08-19","s":"COMBINED CONSUMPTION VIE","v":43.8},{"d":"2021-08-19","s":"AFROX REPORT TOTAL WC","v":77.3},
{"d":"2021-08-20","s":"COMBINED CONSUMPTION VIE","v":44.3},{"d":"2021-08-20","s":"AFROX REPORT TOTAL WC","v":73.1},
{"d":"2021-08-21","s":"COMBINED CONSUMPTION VIE","v":44.3},{"d":"2021-08-21","s":"AFROX REPORT TOTAL WC","v":70.5},
{"d":"2021-08-22","s":"COMBINED CONSUMPTION VIE","v":44.3},{"d":"2021-08-22","s":"AFROX REPORT TOTAL WC","v":70.2},
{"d":"2021-08-23","s":"COMBINED CONSUMPTION VIE","v":42.3},{"d":"2021-08-23","s":"AFROX REPORT TOTAL WC","v":70.1},
{"d":"2021-08-24","s":"COMBINED CONSUMPTION VIE","v":42.0},{"d":"2021-08-24","s":"AFROX REPORT TOTAL WC","v":69.3},
{"d":"2021-08-25","s":"COMBINED CONSUMPTION VIE","v":41.1},{"d":"2021-08-25","s":"AFROX REPORT TOTAL WC","v":67.8},
{"d":"2021-08-26","s":"COMBINED CONSUMPTION VIE","v":40.9},{"d":"2021-08-26","s":"AFROX REPORT TOTAL WC","v":67.1},
{"d":"2021-08-27","s":"COMBINED CONSUMPTION VIE","v":40.1},{"d":"2021-08-27","s":"AFROX REPORT TOTAL WC","v":67.1},
{"d":"2021-08-28","s":"COMBINED CONSUMPTION VIE","v":37.8},{"d":"2021-08-28","s":"AFROX REPORT TOTAL WC","v":62.9},
{"d":"2021-08-29","s":"COMBINED CONSUMPTION VIE","v":37.8},{"d":"2021-08-29","s":"AFROX REPORT TOTAL WC","v":61.0},
{"d":"2021-08-30","s":"COMBINED CONSUMPTION VIE","v":36.6},{"d":"2021-08-30","s":"AFROX REPORT TOTAL WC","v":59.5},
{"d":"2021-08-31","s":"COMBINED CONSUMPTION VIE","v":36.9},{"d":"2021-08-31","s":"AFROX REPORT TOTAL WC","v":62.8},
{"d":"2021-09-01","s":"COMBINED CONSUMPTION VIE","v":36.9},{"d":"2021-09-01","s":"AFROX REPORT TOTAL WC","v":61.9},
{"d":"2021-09-02","s":"COMBINED CONSUMPTION VIE","v":36.6},{"d":"2021-09-02","s":"AFROX REPORT TOTAL WC","v":59.5},
{"d":"2021-09-03","s":"COMBINED CONSUMPTION VIE","v":36.1},{"d":"2021-09-03","s":"AFROX REPORT TOTAL WC","v":60.6},
{"d":"2021-09-04","s":"COMBINED CONSUMPTION VIE","v":36.0},{"d":"2021-09-04","s":"AFROX REPORT TOTAL WC","v":57.2},
{"d":"2021-09-05","s":"COMBINED CONSUMPTION VIE","v":35.9},{"d":"2021-09-05","s":"AFROX REPORT TOTAL WC","v":53.0},
{"d":"2021-09-06","s":"COMBINED CONSUMPTION VIE","v":35.4},{"d":"2021-09-06","s":"AFROX REPORT TOTAL WC","v":58.8},
{"d":"2021-09-07","s":"COMBINED CONSUMPTION VIE","v":34.9},{"d":"2021-09-07","s":"AFROX REPORT TOTAL WC","v":55.6},
{"d":"2021-09-08","s":"COMBINED CONSUMPTION VIE","v":34.4},{"d":"2021-09-08","s":"AFROX REPORT TOTAL WC","v":57.5},
{"d":"2021-09-09","s":"COMBINED CONSUMPTION VIE","v":32.6},{"d":"2021-09-09","s":"AFROX REPORT TOTAL WC","v":57.1},
{"d":"2021-09-10","s":"COMBINED CONSUMPTION VIE","v":32.6},{"d":"2021-09-10","s":"AFROX REPORT TOTAL WC","v":57.7}
  ]},
  "layer": [
    {
      "mark": {"type": "bar"},
      "encoding": {
        "x": {
          "field": "d", "type": "ordinal", "title": null,
          "scale": {"paddingInner": 0.18, "paddingOuter": 0.05},
          "axis": {
            "values": ["2021-01-02","2021-01-09","2021-01-16","2021-01-23","2021-01-30","2021-02-06","2021-02-13","2021-02-20","2021-02-27","2021-03-06","2021-03-13","2021-03-20","2021-03-27","2021-04-03","2021-04-10","2021-04-17","2021-04-24","2021-05-01","2021-05-08","2021-05-15","2021-05-22","2021-05-29","2021-06-05","2021-06-12","2021-06-19","2021-06-26","2021-07-03","2021-07-10","2021-07-17","2021-07-24","2021-07-31","2021-08-07","2021-08-14","2021-08-21","2021-08-28","2021-09-04"],
            "labelExpr": "utcFormat(toDate(datum.value), '%d %b %y')",
            "labelAngle": 270,
            "labelAlign": "right",
            "labelBaseline": "middle",
            "labelFont": "'Liberation Sans Narrow', 'DejaVu Sans Condensed', 'Liberation Sans', sans-serif",
            "labelFontSize": 12,
            "labelColor": "#595959",
            "labelPadding": 9,
            "ticks": false,
            "domain": true,
            "domainColor": "#d9d9d9",
            "grid": false
          }
        },
        "xOffset": {
          "field": "s", "type": "nominal",
          "sort": ["COMBINED CONSUMPTION VIE", "AFROX REPORT TOTAL WC"],
          "scale": {"paddingInner": 0.08}
        },
        "y": {
          "field": "v", "type": "quantitative", "title": null,
          "scale": {"domain": [0, 100]},
          "axis": {
            "values": [0,10,20,30,40,50,60,70,80,90,100],
            "labelFont": "Liberation Sans",
            "labelFontSize": 12,
            "labelColor": "#8c8c8c",
            "labelPadding": 15,
            "ticks": false,
            "domain": false,
            "gridColor": "#e3e3e3",
            "gridWidth": 1
          }
        },
        "color": {
          "field": "s", "type": "nominal", "title": null,
          "sort": ["COMBINED CONSUMPTION VIE", "AFROX REPORT TOTAL WC"],
          "scale": {"domain": ["COMBINED CONSUMPTION VIE", "AFROX REPORT TOTAL WC"], "range": ["#9d44b5", "#93e31f"]},
          "legend": {
            "orient": "none",
            "legendX": 562,
            "legendY": 1045,
            "direction": "horizontal",
            "symbolType": "square",
            "symbolSize": 110,
            "symbolStrokeWidth": 0,
            "labelFont": "Liberation Sans",
            "labelFontSize": 16,
            "labelColor": "#595959",
            "labelLimit": 0,
            "columnPadding": 36,
            "labelOffset": 3
          }
        }
      }
    },
    {
      "data": {"values": [{}]},
      "mark": {"type": "rect", "color": "#d6e3fc"},
      "encoding": {
        "x": {"datum": "2021-03-11", "type": "ordinal"},
        "x2": {"datum": "2021-06-12"},
        "y": {"datum": 50, "type": "quantitative"},
        "y2": {"datum": 76.2}
      }
    },
    {
      "data": {"values": [{}]},
      "mark": {
        "type": "text",
        "text": ["WC total oxygen", "consumption", "approximately 57", "Tons/daily"],
        "font": "DejaVu Sans",
        "fontWeight": "bold",
        "fontSize": 37,
        "lineHeight": 51,
        "color": "black",
        "align": "center",
        "baseline": "middle"
      },
      "encoding": {
        "x": {"datum": "2021-04-27", "type": "ordinal"},
        "y": {"datum": 71.0, "type": "quantitative"}
      }
    }
  ]
}
